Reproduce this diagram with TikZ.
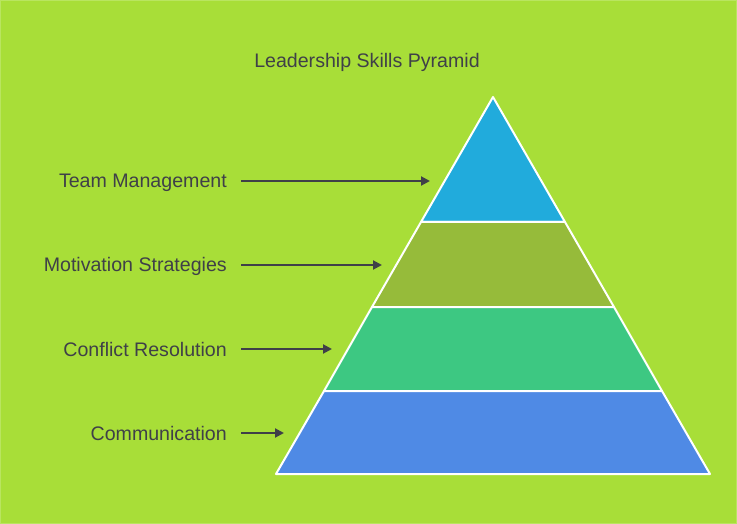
\documentclass[tikz,border=0pt]{standalone}
\usepackage{fontspec}
\setmainfont{Liberation Sans}
\usepackage{xcolor}
\usetikzlibrary{arrows.meta}

\definecolor{bggreen}{HTML}{A8DE38}
\definecolor{edgegreen}{HTML}{B9E560}
\definecolor{tiptop}{HTML}{21ABDC}
\definecolor{tiptwo}{HTML}{96BB3A}
\definecolor{tipthree}{HTML}{3DC882}
\definecolor{tipbase}{HTML}{4F8AE5}
\definecolor{inkgrey}{HTML}{3F4048}

\tikzset{
  lvl/.style={fill=#1, draw=white, line width=2pt, line join=round},
  lbl/.style={anchor=base east, text=inkgrey, inner sep=0pt, font=\fontsize{19.6}{22}\selectfont},
  pointer/.style={draw=inkgrey, line width=2pt, -{Triangle[length=9pt,width=9pt]}}
}

\begin{document}
\begin{tikzpicture}[x=1pt, y=-1pt, line cap=butt]
  \fill[bggreen] (0,0) rectangle (737,524);
  \draw[edgegreen, line width=1pt] (0.5,0.5) rectangle (736.5,523.5);
  \useasboundingbox (0,0) rectangle (737,524);

  % pyramid levels
  \draw[lvl=tiptop]   (493,97) -- (565,222) -- (421,222) -- cycle;
  \draw[lvl=tiptwo]   (421,222) -- (565,222) -- (614,307) -- (372,307) -- cycle;
  \draw[lvl=tipthree] (372,307) -- (614,307) -- (662,391) -- (324,391) -- cycle;
  \draw[lvl=tipbase]  (324,391) -- (662,391) -- (710,474) -- (276,474) -- cycle;

  \node[anchor=base, inner sep=0pt, text=inkgrey, font=\fontsize{19.6}{22}\selectfont] (title) at (367,68) {Leadership Skills Pyramid};

  % labels and pointers
  \node[lbl] (team) at (227,188) {Team Management};
  \node[lbl] (motiv) at (227,272) {Motivation Strategies};
  \node[lbl] (confl) at (227,356) {Conflict Resolution};
  \node[lbl] (comm) at (227,440) {Communication};

  \coordinate (teamend) at (430,181);
  \coordinate (motivend) at (382,265);
  \coordinate (conflend) at (332,349);
  \coordinate (commend) at (284,433);

  \draw[pointer] ([xshift=14pt]team.base east |- teamend) -- (teamend);
  \draw[pointer] ([xshift=14pt]motiv.base east |- motivend) -- (motivend);
  \draw[pointer] ([xshift=14pt]confl.base east |- conflend) -- (conflend);
  \draw[pointer] ([xshift=14pt]comm.base east |- commend) -- (commend);
\end{tikzpicture}
\end{document}
